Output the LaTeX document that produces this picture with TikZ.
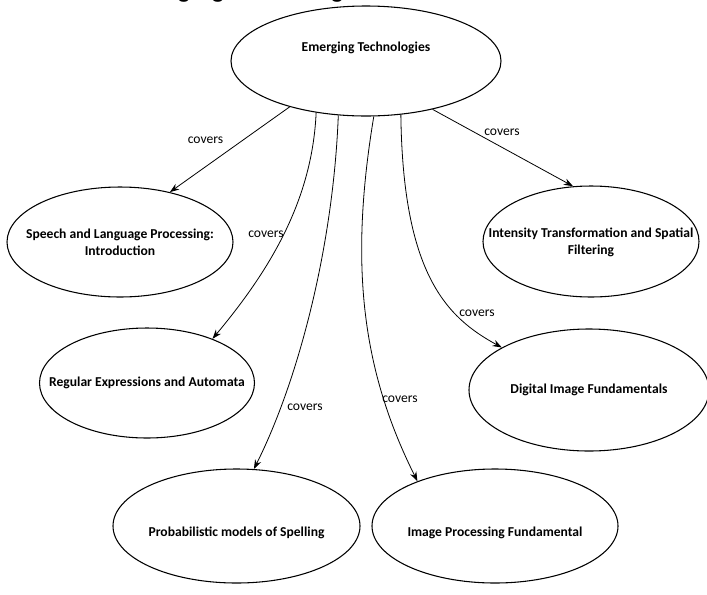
\documentclass[tikz,border=0pt]{standalone}
\usepackage{fontspec}
\setmainfont{Carlito}
\newfontfamily\headfont{Liberation Sans}
\usetikzlibrary{shapes.geometric,arrows.meta}

\begin{document}
\begin{tikzpicture}[x=0.75pt,y=-0.75pt,
  topic/.style={ellipse,draw,line width=0.8pt,inner sep=0pt},
  every label/.append style={inner sep=0pt,align=center,
    font=\fontsize{10.2}{12.75}\selectfont\bfseries},
  link/.style={line width=0.6pt,-{Stealth[length=7pt,width=5pt]}},
  tag/.style={inner sep=0pt,font=\fontsize{10.2}{12}\selectfont}]
\clip (0,0) rectangle (707,594);

% heading, mostly above the page edge
\node[anchor=base,inner sep=0pt,font=\headfont\bfseries\fontsize{17}{20}\selectfont]
  (head) at (248,-2.8) {Emerging Technologies};

% topics (text set as centre labels so the ellipses keep their size)
\node[topic,minimum width=202.5pt,minimum height=82.5pt,
  label={[yshift=9.75pt]center:Emerging Technologies}] (em) at (366,61) {};
\node[topic,minimum width=169.5pt,minimum height=82.5pt,
  label={center:{Speech and Language Processing:\\Introduction}}] (sp) at (120,242) {};
\node[topic,minimum width=162pt,minimum height=83.25pt,
  label={[yshift=-1pt]center:{Intensity Transformation and Spatial\\Filtering}}] (it) at (591,241.5) {};
\node[topic,minimum width=161.25pt,minimum height=82.5pt,
  label={center:Regular Expressions and Automata}] (re) at (147,383) {};
\node[topic,minimum width=180pt,minimum height=91.5pt,
  label={center:Digital Image Fundamentals}] (di) at (589,390) {};
\node[topic,minimum width=185.25pt,minimum height=85.5pt,
  label={[yshift=-5pt]center:Probabilistic models of Spelling}] (pr) at (236.5,526) {};
\node[topic,minimum width=184.5pt,minimum height=85.5pt,
  label={[yshift=-5pt]center:Image Processing Fundamental}] (ip) at (495,526) {};

% connectors
\draw[link] (em.211.7) -- (sp.45.5);
\draw[link] (em.324) -- (it.108);
\draw[link] (em.226) .. controls +(-4,90) and +(55,-66) .. (re.34);
\draw[link] (em.243) .. controls +(-5,130) and +(45,-90) .. (pr.73);
\draw[link] (em.278) .. controls +(-25,150) and +(-55,-110) .. (ip.150);
\draw[link] (em.303) .. controls +(2,160) and +(-55,-30) .. (di.154);

% connector labels
\node[tag] (l1) at (205.5,140) {covers};
\node[tag] (l2) at (502,132) {covers};
\node[tag] (l3) at (266,234) {covers};
\node[tag] (l4) at (305,407) {covers};
\node[tag] (l5) at (400,399) {covers};
\node[tag] (l6) at (477,313) {covers};
\end{tikzpicture}
\end{document}
